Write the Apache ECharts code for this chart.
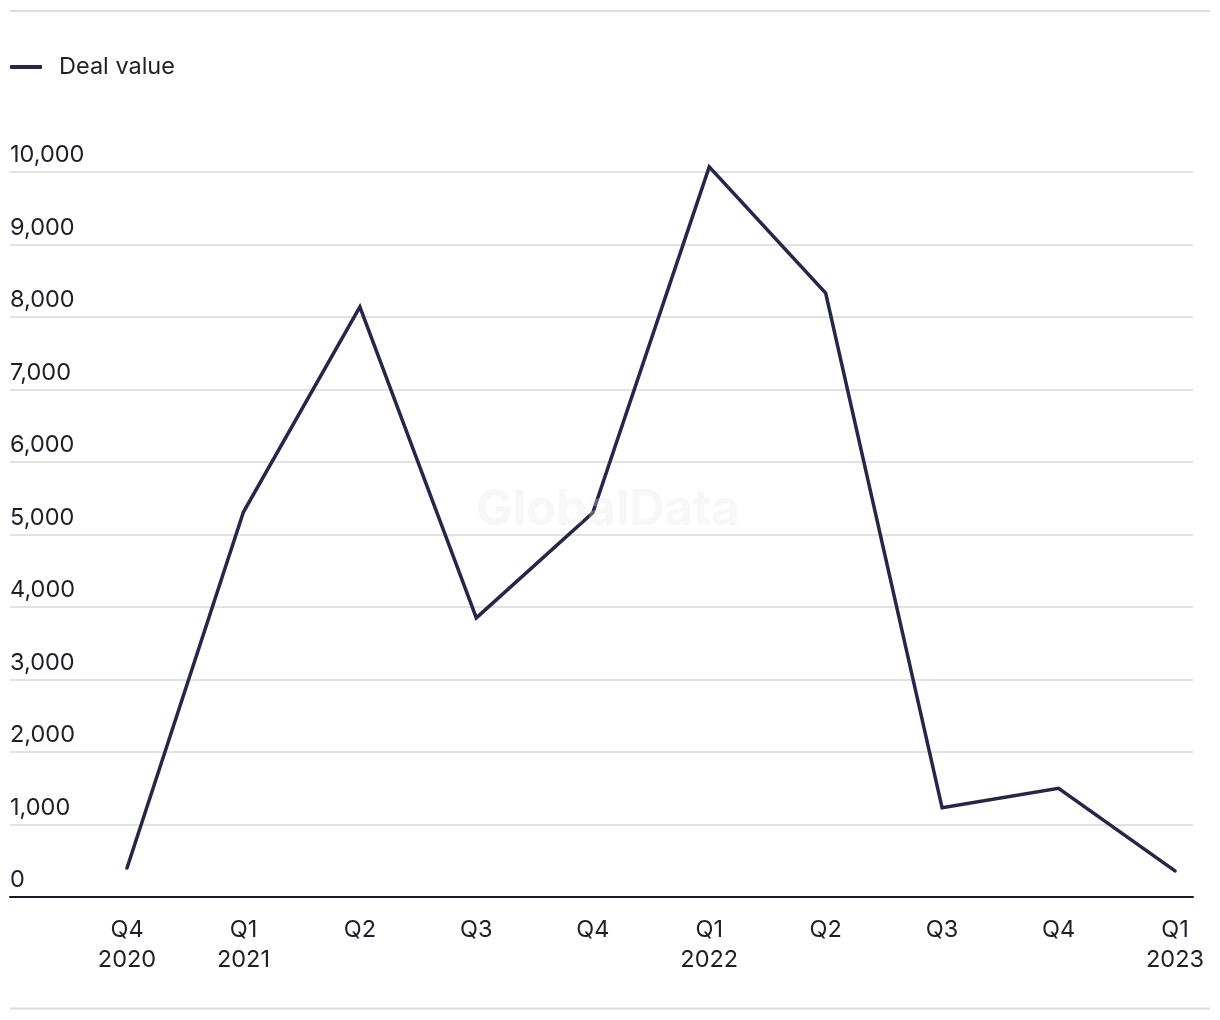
<!DOCTYPE html>
<html>
<head>
<meta charset="utf-8">
<script src="https://cdn.jsdelivr.net/npm/echarts@6/dist/echarts.min.js"></script>
<style>
html,body{margin:0;padding:0;background:#fff;}
#chart{width:1220px;height:1020px;}
</style>
</head>
<body>
<div id="chart"></div>
<script>
const categories = ['Q4\n2020','Q1\n2021','Q2','Q3','Q4','Q1\n2022','Q2','Q3','Q4','Q1\n2023'];
const dealValue = [400, 5310, 8140, 3850, 5300, 10070, 8330, 1230, 1500, 360];
const yTicks = {min: 0, max: 10000, interval: 1000};
const seriesName = 'Deal value';

const FONT = 'Inter, "Liberation Sans", sans-serif';
const TEXT = '#1f1f2b';
const LINE = '#26264a';
const FS = 23.5;

const chart = echarts.init(document.getElementById('chart'));
chart.setOption({
  backgroundColor: '#ffffff',
  animation: false,
  textStyle: {fontFamily: FONT},
  legend: {
    left: 10, top: 55, padding: 0,
    itemWidth: 32, itemHeight: 4,
    data: [{name: seriesName, icon: 'roundRect'}],
    itemStyle: {color: LINE},
    textStyle: {fontSize: FS, color: TEXT, fontFamily: FONT, padding: [0,0,0,12]}
  },
  grid: [
    {left: 10, right: 27, top: 172, bottom: 123},
    {left: 127, right: 45, top: 172, bottom: 123}
  ],
  xAxis: [
    {gridIndex: 0, type: 'value', min: 0, max: 1, show: true,
     axisLine: {show: true, onZero: false, lineStyle: {color: '#1a1a2e', width: 2}},
     axisTick: {show: false}, axisLabel: {show: false}, splitLine: {show: false}},
    {gridIndex: 1, type: 'category', data: categories, boundaryGap: false,
     axisLine: {show: false}, axisTick: {show: false}, splitLine: {show: false},
     axisLabel: {fontSize: FS, color: TEXT, fontFamily: FONT, lineHeight: 30, margin: 18, interval: 0}}
  ],
  yAxis: [
    {gridIndex: 0, type: 'value', min: yTicks.min, max: yTicks.max, interval: yTicks.interval,
     axisLine: {show: false}, axisTick: {show: false},
     splitLine: {show: true, lineStyle: {color: '#d9d9d9', width: 1.5}},
     axisLabel: {align: 'left', verticalAlign: 'bottom', margin: 0, fontSize: FS, color: TEXT,
       fontFamily: FONT, padding: [0,0,5,0],
       formatter: v => v.toLocaleString('en-US')}},
    {gridIndex: 1, type: 'value', min: yTicks.min, max: yTicks.max, interval: yTicks.interval, show: false}
  ],
  series: [{
    name: seriesName, type: 'line', xAxisIndex: 1, yAxisIndex: 1,
    data: dealValue, symbol: 'none', showSymbol: false, clip: false,
    lineStyle: {color: LINE, width: 3.5, cap: 'round', join: 'miter'},
    itemStyle: {color: LINE}, z: 3
  }],
  graphic: [
    {type: 'line', shape: {x1: 10, y1: 11, x2: 1210, y2: 11}, style: {stroke: '#dcdcdc', lineWidth: 2}, silent: true},
    {type: 'line', shape: {x1: 10, y1: 1008.5, x2: 1210, y2: 1008.5}, style: {stroke: '#dcdcdc', lineWidth: 2}, silent: true},
    {type: 'text', left: 476, top: 486, z: 100, silent: true,
     style: {text: 'GlobalData', fontSize: 49, fontWeight: 'bold', fontFamily: FONT, fill: 'rgba(230,230,230,0.3)'}}
  ]
});
</script>
</body>
</html>
